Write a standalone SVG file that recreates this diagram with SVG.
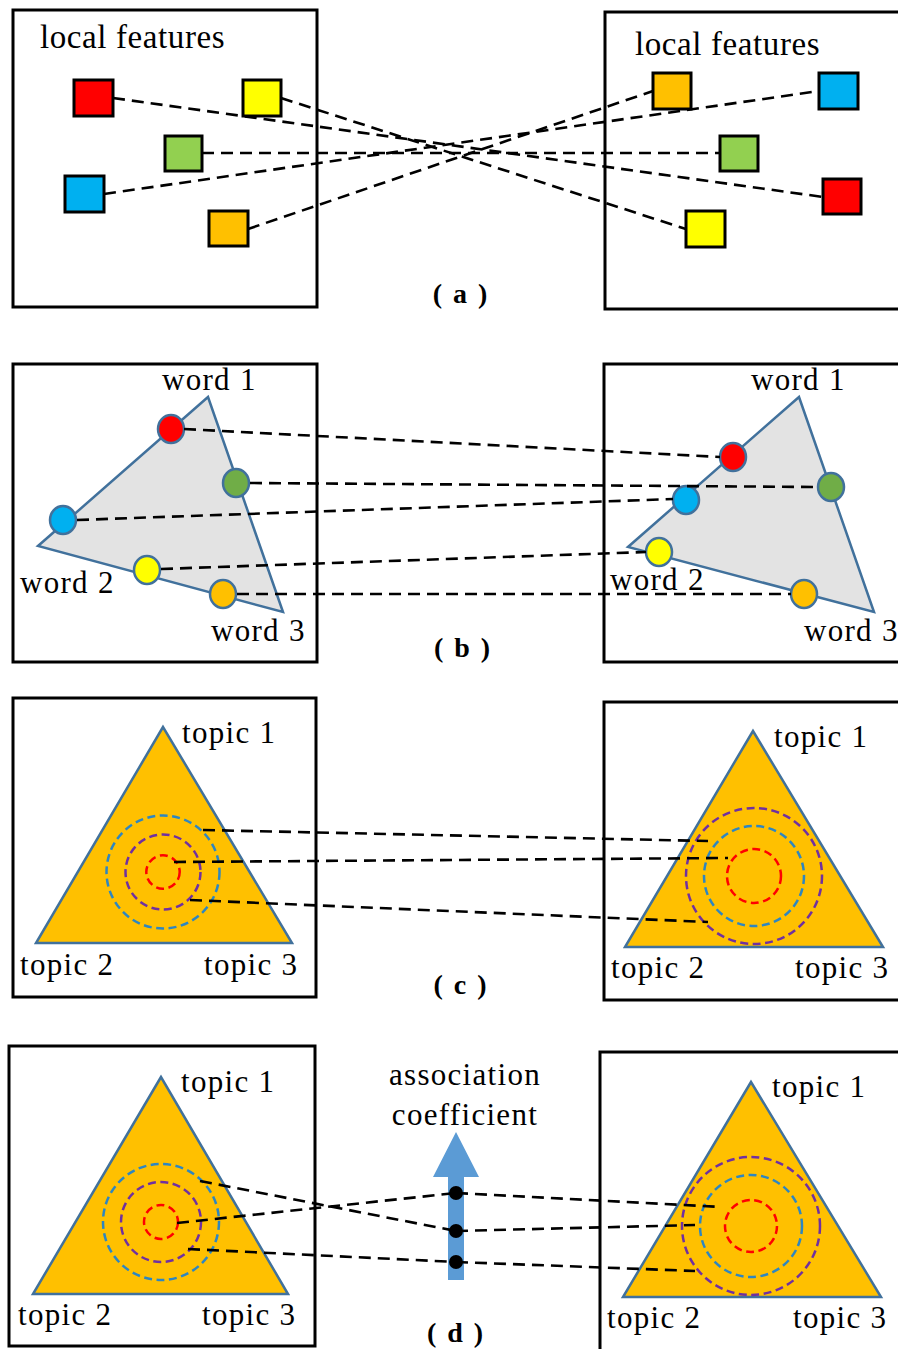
<svg xmlns="http://www.w3.org/2000/svg" width="898" height="1349" viewBox="0 0 898 1349">
<style>
.box{fill:none;stroke:#000;stroke-width:3}
.sq{stroke:#000;stroke-width:3}
.lbl{font-family:"Liberation Serif","Times New Roman",serif;font-size:31px;letter-spacing:1.3px;fill:#000}
.big{font-size:33px;letter-spacing:0.6px}
.cap{font-family:"Liberation Serif","Times New Roman",serif;font-size:28px;letter-spacing:2px;font-weight:bold;fill:#000;text-anchor:middle}
.tri{stroke:#41719c;stroke-width:2.5;stroke-linejoin:miter}
.g{fill:#e3e3e3}
.o{fill:#ffc000}
.pt{stroke:#41719c;stroke-width:2.5}
.ring{fill:none;stroke-width:2.5;stroke-dasharray:8 4.5}
.rr{stroke:#ff0000}
.rp{stroke:#7030a0}
.rb{stroke:#2e86c1}
.dash line{stroke:#000;stroke-width:2.6;stroke-dasharray:12 7;fill:none}
</style>
<rect width="898" height="1349" fill="#fff"/>

<!-- Panel (a) -->
<g id="a-left">
<rect class="box" x="13" y="10" width="304" height="297"/>
<text class="lbl big" x="40" y="48">local features</text>
<rect class="sq" x="74" y="80" width="39" height="36" fill="#ff0000"/>
<rect class="sq" x="243" y="80" width="38" height="36" fill="#ffff00"/>
<rect class="sq" x="165" y="136" width="37" height="35" fill="#92d050"/>
<rect class="sq" x="65" y="176" width="39" height="36" fill="#00b0f0"/>
<rect class="sq" x="209" y="211" width="39" height="35" fill="#ffc000"/>
</g>
<g id="a-right">
<rect class="box" x="605" y="12" width="300" height="297"/>
<text class="lbl big" x="635" y="55">local features</text>
<rect class="sq" x="653" y="73" width="38" height="36" fill="#ffc000"/>
<rect class="sq" x="819" y="73" width="39" height="36" fill="#00b0f0"/>
<rect class="sq" x="720" y="136" width="38" height="35" fill="#92d050"/>
<rect class="sq" x="823" y="179" width="38" height="35" fill="#ff0000"/>
<rect class="sq" x="686" y="211" width="39" height="36" fill="#ffff00"/>
</g>
<text id="cap-a" class="cap" x="461" y="303">( a )</text>

<!-- Panel (b) -->
<g id="b-left">
<rect class="box" x="13" y="364" width="304" height="298"/>
<polygon class="tri g" points="208,397 38,546 283,612"/>
<ellipse class="pt" cx="171" cy="429" rx="13" ry="14" fill="#ff0000"/>
<ellipse class="pt" cx="236" cy="483" rx="13" ry="14" fill="#70ad47"/>
<ellipse class="pt" cx="63" cy="520" rx="13" ry="14" fill="#00b0f0"/>
<ellipse class="pt" cx="147" cy="570" rx="13" ry="14" fill="#ffff00"/>
<ellipse class="pt" cx="223" cy="594" rx="13" ry="14" fill="#ffc000"/>
<text class="lbl" x="162" y="390">word 1</text>
<text class="lbl" x="20" y="593">word 2</text>
<text class="lbl" x="211" y="641">word 3</text>
</g>
<g id="b-right">
<rect class="box" x="604" y="364" width="300" height="298"/>
<polygon class="tri g" points="799,397 628,547 874,612"/>
<ellipse class="pt" cx="733" cy="457" rx="13" ry="14" fill="#ff0000"/>
<ellipse class="pt" cx="686" cy="500" rx="13" ry="14" fill="#00b0f0"/>
<ellipse class="pt" cx="831" cy="487" rx="13" ry="14" fill="#70ad47"/>
<ellipse class="pt" cx="659" cy="552" rx="13" ry="14" fill="#ffff00"/>
<ellipse class="pt" cx="804" cy="594" rx="13" ry="14" fill="#ffc000"/>
<text class="lbl" x="751" y="390">word 1</text>
<text class="lbl" x="610" y="590">word 2</text>
<text class="lbl" x="804" y="641">word 3</text>
</g>
<text id="cap-b" class="cap" x="463" y="657">( b )</text>

<!-- Panel (c) -->
<g id="c-left">
<rect class="box" x="13" y="698" width="303" height="299"/>
<polygon class="tri o" points="163,727 36,943 292,943"/>
<circle class="ring rb" cx="163" cy="872" r="56.5"/>
<circle class="ring rp" cx="163" cy="872" r="37.5"/>
<circle class="ring rr" cx="163" cy="872" r="16.7"/>
<text class="lbl" x="182" y="743">topic 1</text>
<text class="lbl" x="20" y="975">topic 2</text>
<text class="lbl" x="204" y="975">topic 3</text>
</g>
<g id="c-right">
<rect class="box" x="604" y="702" width="300" height="298"/>
<polygon class="tri o" points="753,731 625,947 883,947"/>
<circle class="ring rp" cx="754" cy="876" r="68"/>
<circle class="ring rb" cx="754" cy="876" r="50"/>
<circle class="ring rr" cx="754" cy="876" r="27"/>
<text class="lbl" x="774" y="747">topic 1</text>
<text class="lbl" x="611" y="978">topic 2</text>
<text class="lbl" x="795" y="978">topic 3</text>
</g>
<text id="cap-c" class="cap" x="461" y="994">( c )</text>

<!-- Panel (d) -->
<g id="d-left">
<rect class="box" x="9" y="1046" width="306" height="300"/>
<polygon class="tri o" points="161,1077 33,1294 288,1294"/>
<circle class="ring rb" cx="161" cy="1222" r="58"/>
<circle class="ring rp" cx="161" cy="1222" r="40"/>
<circle class="ring rr" cx="161" cy="1222" r="17"/>
<text class="lbl" x="181" y="1092">topic 1</text>
<text class="lbl" x="18" y="1325">topic 2</text>
<text class="lbl" x="202" y="1325">topic 3</text>
</g>
<g id="d-right">
<rect class="box" x="600" y="1052" width="305" height="305"/>
<polygon class="tri o" points="751,1082 623,1297 881,1297"/>
<circle class="ring rp" cx="751" cy="1226" r="69"/>
<circle class="ring rb" cx="751" cy="1226" r="51"/>
<circle class="ring rr" cx="751" cy="1226" r="26"/>
<text class="lbl" x="772" y="1097">topic 1</text>
<text class="lbl" x="607" y="1328">topic 2</text>
<text class="lbl" x="793" y="1328">topic 3</text>
</g>
<g id="d-arrow">
<polygon points="456,1132 479,1177 464,1177 464,1280 448,1280 448,1177 433,1177" fill="#5b9bd5"/>
<text class="lbl" x="465" y="1085" text-anchor="middle">association</text>
<text class="lbl" x="465" y="1125" text-anchor="middle">coefficient</text>
</g>
<text id="cap-d" class="cap" x="456" y="1342">( d )</text>

<!-- Connectors -->
<g id="connectors" class="dash">
<line x1="113" y1="98" x2="823" y2="197"/>
<line x1="281" y1="98" x2="686" y2="229"/>
<line x1="202" y1="153" x2="720" y2="153"/>
<line x1="104" y1="194" x2="819" y2="91"/>
<line x1="248" y1="229" x2="653" y2="91"/>

<line x1="184" y1="429" x2="720" y2="457"/>
<line x1="250" y1="483" x2="818" y2="487"/>
<line x1="77" y1="520" x2="673" y2="499"/>
<line x1="161" y1="569" x2="646" y2="552"/>
<line x1="237" y1="594" x2="791" y2="594"/>

<line x1="203" y1="830" x2="708" y2="841"/>
<line x1="174" y1="862" x2="728" y2="858"/>
<line x1="190" y1="900" x2="708" y2="922"/>

<line x1="200" y1="1181" x2="456" y2="1231"/>
<line x1="177" y1="1223" x2="456" y2="1193"/>
<line x1="188" y1="1249" x2="456" y2="1262"/>
<line x1="456" y1="1193" x2="721" y2="1207"/>
<line x1="456" y1="1231" x2="695" y2="1225"/>
<line x1="456" y1="1262" x2="695" y2="1271"/>
</g>
<g id="d-dots" fill="#000">
<circle cx="456" cy="1193" r="7"/>
<circle cx="456" cy="1231" r="7"/>
<circle cx="456" cy="1262" r="7"/>
</g>
</svg>
